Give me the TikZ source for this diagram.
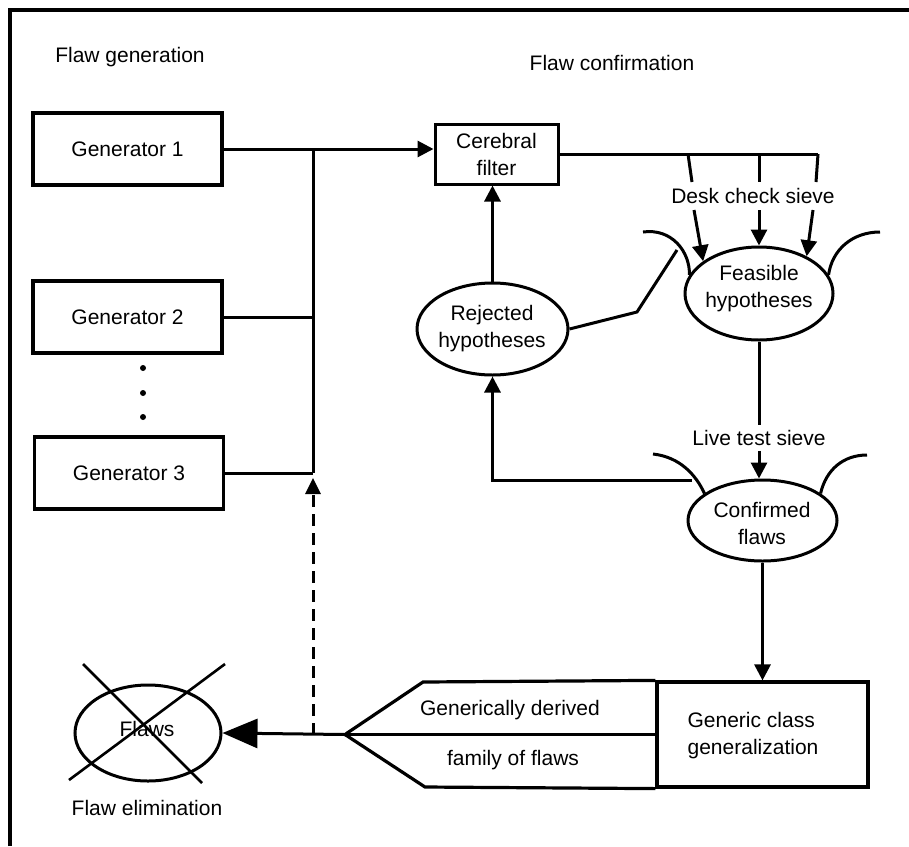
\documentclass[tikz,border=0pt]{standalone}
\usepackage{fontspec}
\setmainfont{Liberation Sans}
\usetikzlibrary{arrows.meta,shapes.geometric}
\begin{document}
\begin{tikzpicture}[x=1pt,y=-1pt,
  every node/.style={font=\fontsize{21}{27}\selectfont},
  ln/.style={line width=3pt},
  box/.style={draw,line width=3.2pt,minimum width=189pt,minimum height=72pt,inner sep=0pt},
  ell/.style={draw,ellipse,line width=3pt,inner sep=0pt},
  txt/.style={align=center,inner sep=0pt},
  arr/.style={ln,-{Triangle[length=16pt,width=16pt]}},
  dotn/.style={circle,fill,inner sep=0pt,minimum size=6pt},
]
\useasboundingbox (0,0) rectangle (909,846);
% frame
\draw[line width=3.2pt] (10,846) -- (10,10) -- (909,10);

% titles
\node (tgen) at (130,57) {Flaw generation};
\node (tconf) at (612,63) {Flaw confirmation};

% generators
\node[box] (g1) at (127.5,149) {Generator 1};
\node[box] (g2) at (127.5,317) {Generator 2};
\node[box] (g3) at (129,473) {Generator 3};
\node[dotn] (d1) at (143,368) {};
\node[dotn] (d2) at (143,393) {};
\node[dotn] (d3) at (143,417) {};

% cerebral filter
\node[draw,line width=3pt,minimum width=123pt,minimum height=60pt,inner sep=0pt,align=center] (filt) at (496.5,154) {Cerebral\\filter};

% ellipses
\node[ell,minimum width=151pt,minimum height=92pt] (rej) at (492.5,329) {};
\node[txt] (rejT) at (492,328.5) {Rejected\\hypotheses};
\node[ell,minimum width=148pt,minimum height=93pt] (feas) at (759,293.5) {};
\node[txt] (feasT) at (759,289) {Feasible\\hypotheses};
\node[ell,minimum width=149pt,minimum height=81pt] (conf) at (762.5,520.5) {};
\node[txt] (confT) at (762,523) {Confirmed\\flaws};
\node[ell,minimum width=146pt,minimum height=96pt] (fl) at (148,733) {};
\node[txt] (flT) at (147,729) {Flaws};
\node (elim) at (147,808) {Flaw elimination};

% labels
\node (desk) at (753,196) {Desk check sieve};
\node[inner sep=5pt] (live) at (759,438) {Live test sieve};

% generic box
\node[draw,line width=3.2pt,minimum width=211pt,minimum height=105pt,inner sep=0pt] (gen) at (762.5,734.5) {};
\node[align=left,inner sep=0pt] (genT) at (753,736) {Generic class\\generalization};
\coordinate (ptop) at (423,682);
\coordinate (tip) at (345,734.5);
\coordinate (pbot) at (425,787);
\draw[line width=3.2pt,line join=miter] (gen.north west) -- (ptop) -- (tip) -- (pbot) -- (gen.south west);
\draw[line width=3.4pt] (tip) -- (gen.west);
\node (gd) at (510,710) {Generically derived};
\node (ff) at (513,760) {family of flaws};

% flaws arrow and cross
\draw[ln,-{Triangle[length=35pt,width=29pt]}] (tip) -- (fl.east);
\coordinate (x1a) at (83,664); \coordinate (x1b) at (202,783);
\coordinate (x2a) at (225,664); \coordinate (x2b) at (69,780);
\draw[line width=2.6pt] (x1a) -- (x1b);
\draw[line width=2.6pt] (x2a) -- (x2b);

% bus
\coordinate (b1) at (313,149);
\draw[arr] (g1.east) -- (g1.east -| filt.west);
\draw[ln] (b1) -- (b1 |- g3.east);
\draw[ln] (g2.east) -- (g2.east -| b1);
\draw[ln] (g3.east) -- (g3.east -| b1);
\coordinate (dbot) at (313,734.5);
\coordinate (dtop) at (313,478);
\draw[ln,dash pattern=on 12pt off 7pt,-{Triangle[length=16pt,width=15pt]}] (dbot) -- (dtop);

% filter to desk sieve
\coordinate (fr) at (818,154);
\draw[ln] (filt.east) -- (fr);
\coordinate (t1a) at (688,154); \coordinate (t1b) at (692,182);
\coordinate (t2a) at (759,154); \coordinate (t2b) at (759,182);
\coordinate (t3a) at (818,154); \coordinate (t3b) at (816,182);
\draw[ln] (t1a) -- (t1b);
\draw[ln] (t2a) -- (t2b);
\draw[ln] (t3a) -- (t3b);
\coordinate (a1) at (694,210);
\coordinate (a2) at (759,210);
\coordinate (a3) at (813,210);
\draw[arr] (a1) -- (feas.150);
\draw[arr] (a2) -- (feas.north);
\draw[arr] (a3) -- (feas.38);

% sieve arcs
\draw[ln] (643,232) .. controls (672,228) and (690,252) .. (feas.165);
\draw[ln] (feas.15) .. controls (832,250) and (852,232) .. (880,232);
\draw[ln] (653,454) .. controls (680,457) and (696,475) .. (conf.155);
\draw[ln] (conf.25) .. controls (826,470) and (843,455) .. (867,455);

% rejected connections
\coordinate (rj1) at (637,312);
\coordinate (rj2) at (677,250);
\draw[ln] (rej.east) -- (rj1) -- (rj2);
\draw[arr] (rej.north) -- (rej.north |- filt.south);

% feasible to confirmed
\draw[ln] (feas.south) -- (live.north);
\draw[arr] (live.south) -- (live.south |- conf.north);

% feedback
\coordinate (fbs) at (692,480);
\draw[arr] (fbs) -- (fbs -| rej.south) -- (rej.south);

% confirmed to generic
\draw[arr] (conf.south) -- (conf.south |- gen.north);
\end{tikzpicture}
\end{document}
